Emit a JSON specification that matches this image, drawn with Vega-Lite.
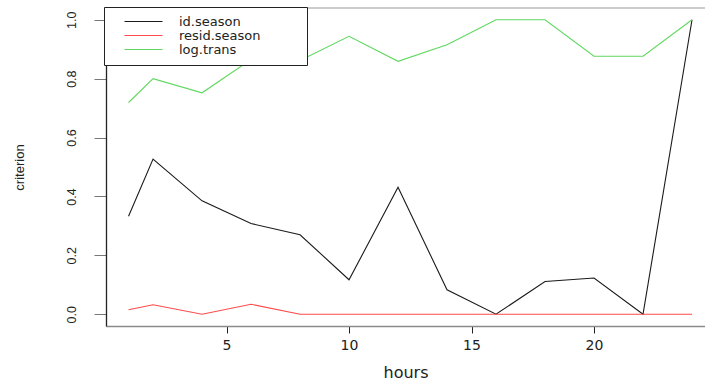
{
  "$schema": "https://vega.github.io/schema/vega-lite/v6.json",
  "width": 599,
  "height": 318,
  "autosize": {"type": "none"},
  "padding": {"left": 106, "top": 8, "right": 0, "bottom": 57},
  "background": "white",
  "config": {
    "view": {"stroke": null},
    "font": "Liberation Sans"
  },
  "layer": [
    {
      "data": {"values": [{"top": 1.04}]},
      "mark": {"type": "rule", "color": "#9a9a9a", "strokeWidth": 1.2},
      "encoding": {"y": {"field": "top", "type": "quantitative", "scale": {"domain": [-0.04, 1.04], "nice": false, "zero": false}}}
    },
    {
      "data": {
        "values": [
          {"hours": 1, "series": "id.season", "criterion": 0.333},
          {"hours": 2, "series": "id.season", "criterion": 0.527},
          {"hours": 4, "series": "id.season", "criterion": 0.385},
          {"hours": 6, "series": "id.season", "criterion": 0.308},
          {"hours": 8, "series": "id.season", "criterion": 0.27},
          {"hours": 10, "series": "id.season", "criterion": 0.117},
          {"hours": 12, "series": "id.season", "criterion": 0.431},
          {"hours": 14, "series": "id.season", "criterion": 0.083},
          {"hours": 16, "series": "id.season", "criterion": 0.0},
          {"hours": 18, "series": "id.season", "criterion": 0.111},
          {"hours": 20, "series": "id.season", "criterion": 0.123},
          {"hours": 22, "series": "id.season", "criterion": 0.0},
          {"hours": 24, "series": "id.season", "criterion": 1.0},
          {"hours": 1, "series": "resid.season", "criterion": 0.015},
          {"hours": 2, "series": "resid.season", "criterion": 0.032},
          {"hours": 4, "series": "resid.season", "criterion": 0.0},
          {"hours": 6, "series": "resid.season", "criterion": 0.034},
          {"hours": 8, "series": "resid.season", "criterion": 0.0},
          {"hours": 10, "series": "resid.season", "criterion": 0.0},
          {"hours": 12, "series": "resid.season", "criterion": 0.0},
          {"hours": 14, "series": "resid.season", "criterion": 0.0},
          {"hours": 16, "series": "resid.season", "criterion": 0.0},
          {"hours": 18, "series": "resid.season", "criterion": 0.0},
          {"hours": 20, "series": "resid.season", "criterion": 0.0},
          {"hours": 22, "series": "resid.season", "criterion": 0.0},
          {"hours": 24, "series": "resid.season", "criterion": 0.0},
          {"hours": 1, "series": "log.trans", "criterion": 0.719},
          {"hours": 2, "series": "log.trans", "criterion": 0.8},
          {"hours": 4, "series": "log.trans", "criterion": 0.752},
          {"hours": 6, "series": "log.trans", "criterion": 0.865},
          {"hours": 8, "series": "log.trans", "criterion": 0.862},
          {"hours": 10, "series": "log.trans", "criterion": 0.944},
          {"hours": 12, "series": "log.trans", "criterion": 0.859},
          {"hours": 14, "series": "log.trans", "criterion": 0.915},
          {"hours": 16, "series": "log.trans", "criterion": 1.0},
          {"hours": 18, "series": "log.trans", "criterion": 1.0},
          {"hours": 20, "series": "log.trans", "criterion": 0.876},
          {"hours": 22, "series": "log.trans", "criterion": 0.876},
          {"hours": 24, "series": "log.trans", "criterion": 1.0}
        ]
      },
      "mark": {"type": "line", "strokeWidth": 1.1, "clip": true},
      "encoding": {
        "x": {
          "field": "hours",
          "type": "quantitative",
          "scale": {"domain": [0.08, 24.53], "nice": false, "zero": false},
          "axis": {
            "title": "hours",
            "values": [5, 10, 15, 20],
            "grid": false,
            "domainColor": "#8a8a8a",
            "domainWidth": 1.3,
            "tickColor": "#222",
            "tickSize": 7,
            "labelFont": "DejaVu Sans",
            "labelFontSize": 14,
            "labelColor": "#222",
            "labelPadding": 5,
            "titleFont": "DejaVu Sans",
            "titleFontSize": 16,
            "titleFontWeight": "normal",
            "titleColor": "#222",
            "titlePadding": 12
          }
        },
        "y": {
          "field": "criterion",
          "type": "quantitative",
          "scale": {"domain": [-0.04, 1.04], "nice": false, "zero": false},
          "axis": {
            "title": "criterion",
            "values": [0, 0.2, 0.4, 0.6, 0.8, 1.0],
            "format": ".1f",
            "grid": false,
            "domainColor": "#222",
            "domainWidth": 1.3,
            "tickColor": "#777",
            "tickSize": 12,
            "labelAngle": -90,
            "labelAlign": "center",
            "labelBaseline": "middle",
            "labelFont": "Liberation Sans",
            "labelFontSize": 12.5,
            "labelColor": "#222",
            "labelPadding": 23,
            "titleFont": "Liberation Sans",
            "titleFontSize": 13,
            "titleFontWeight": "normal",
            "titleColor": "#222",
            "titlePadding": 39
          }
        },
        "color": {
          "field": "series",
          "type": "nominal",
          "scale": {
            "domain": ["id.season", "resid.season", "log.trans"],
            "range": ["#1a1a1a", "#ff4a4a", "#5fd85f"]
          },
          "legend": {
            "title": null,
            "orient": "none",
            "legendX": -2,
            "legendY": -1,
            "strokeColor": "#222",
            "fillColor": "white",
            "padding": 8,
            "symbolType": "M-3.8,0H3.8",
            "symbolSize": 100,
            "symbolStrokeWidth": 1.2,
            "symbolOffset": 25,
            "labelOffset": 29,
            "labelFont": "DejaVu Sans",
            "labelFontSize": 13,
            "labelColor": "#222",
            "labelExpr": "datum.label + '\u2800\u2800\u2800\u2800'",
            "rowPadding": -6
          }
        }
      }
    }
  ]
}
